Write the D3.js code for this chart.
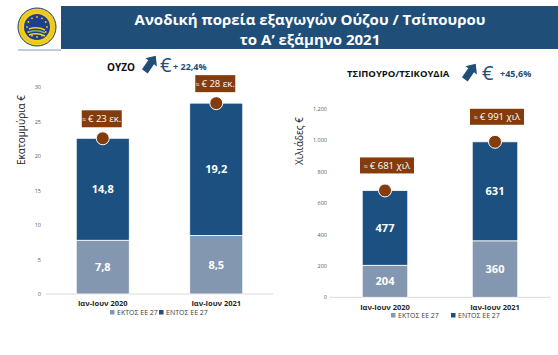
<!DOCTYPE html>
<html><head><meta charset="utf-8">
<script src="https://cdn.jsdelivr.net/npm/d3@7"></script>
<style>
html,body{margin:0;padding:0;background:#fff;}
svg{display:block;font-family:"Open Sans",sans-serif;}
</style></head>
<body>
<svg id="c" width="558" height="355"></svg>
<script>
// ---- data ----
const categories = ["Ιαν-Ιουν 2020", "Ιαν-Ιουν 2021"];
const seriesNames = ["ΕΚΤΟΣ ΕΕ 27", "ΕΝΤΟΣ ΕΕ 27"];
const ouzoOutside = [7.8, 8.5];
const ouzoInside = [14.8, 19.2];
const ouzoTotalLabels = ["€ 23 εκ.", "€ 28 εκ."];
const ouzoTicks = [0, 5, 10, 15, 20, 25, 30];
const tsipOutside = [204, 360];
const tsipInside = [477, 631];
const tsipTotalLabels = ["€ 681 χιλ", "€ 991 χιλ"];
const tsipTicks = [0, 200, 400, 600, 800, 1000, 1200];
const titleLines = ["Ανοδική πορεία εξαγωγών Ούζου / Τσίπουρου", "το Α’ εξάμηνο 2021"];

const DARK = "#1b5080", LIGHT = "#8497b0", BROWN = "#843c0c", BANNER = "#1f4e79";
const svg = d3.select("#c");

// ---- header banner ----
svg.append("rect").attr("x", 61).attr("y", 6).attr("width", 497).attr("height", 43).attr("fill", BANNER);
svg.append("line").attr("x1", 18).attr("x2", 61).attr("y1", 50).attr("y2", 50).attr("stroke", "#7f9bb5").attr("stroke-width", 1);
svg.selectAll("text.title").data(titleLines).join("text")
  .attr("x", 310).attr("y", (d, i) => 25 + i * 20)
  .attr("text-anchor", "middle").attr("fill", "#fff")
  .attr("font-size", 15).attr("font-weight", 700).text(d => d);

// logo (PGI style seal)
const logo = svg.append("g").attr("transform", "translate(37,27)");
logo.append("circle").attr("r", 19).attr("fill", "#f2cf1d").attr("stroke", "#1f3c7a").attr("stroke-width", 1);
logo.append("circle").attr("r", 13).attr("fill", "#1f3f8c");
logo.append("circle").attr("r", 16).attr("fill", "none").attr("stroke", "#b8961a").attr("stroke-width", 0.5).attr("stroke-dasharray", "1,1");
d3.range(12).forEach(i => {
  const a = i / 12 * 2 * Math.PI;
  logo.append("circle").attr("cx", 10 * Math.cos(a)).attr("cy", 10 * Math.sin(a)).attr("r", 0.9).attr("fill", "#f2cf1d");
});
[0, 1, 2].forEach(i => {
  logo.append("path").attr("d", `M-8,${2 + i * 3} Q0,${-1 + i * 3} 8,${3 + i * 3}`)
    .attr("fill", "none").attr("stroke", i % 2 ? "#8ab34a" : "#f2cf1d").attr("stroke-width", 1.6);
});

// ---- headings with arrows ----
function arrow(x, y, s) {
  const p = "M0,-10 L7,-2 L3.5,-2 L3.5,9 L-3.5,9 L-3.5,-2 L-7,-2 Z";
  svg.append("path").attr("d", p).attr("fill", BANNER)
    .attr("transform", `translate(${x},${y}) rotate(35) scale(${s})`);
}
svg.append("text").attr("x", 107).attr("y", 71).attr("font-size", 10).attr("font-weight", 700).attr("fill", "#111").text("ΟΥΖΟ");
arrow(150, 64, 1);
svg.append("text").attr("x", 160).attr("y", 72).attr("font-size", 20).attr("fill", BANNER).text("€");
svg.append("text").attr("x", 173).attr("y", 70).attr("font-size", 9).attr("font-weight", 700).attr("fill", BANNER).text("+ 22,4%");

svg.append("text").attr("x", 347).attr("y", 77).attr("font-size", 9.5).attr("font-weight", 700).attr("fill", "#111").text("ΤΣΙΠΟΥΡΟ/ΤΣΙΚΟΥΔΙΑ");
arrow(470, 72, 1);
svg.append("text").attr("x", 482).attr("y", 80).attr("font-size", 20).attr("fill", BANNER).text("€");
svg.append("text").attr("x", 500).attr("y", 77).attr("font-size", 9).attr("font-weight", 700).attr("fill", BANNER).text("+45,6%");

// ---- stacked chart builder ----
function chart(cfg) {
  const g = svg.append("g");
  const x = d3.scaleBand().domain(categories).range(cfg.xr).padding(0);
  const y = d3.scaleLinear().domain([0, cfg.ticks[cfg.ticks.length - 1]]).range(cfg.yr);
  const bw = x.bandwidth() * cfg.barFrac;
  const cx = c => x(c) + x.bandwidth() / 2;

  // y tick labels
  g.selectAll("text.tick").data(cfg.ticks).join("text")
    .attr("x", cfg.tickX).attr("y", d => y(d) + 2)
    .attr("text-anchor", "end").attr("font-size", 5.5).attr("fill", "#595959")
    .text(cfg.fmt);
  // baseline
  g.append("line").attr("x1", cfg.xr[0]).attr("x2", cfg.xr[1]).attr("y1", y(0)).attr("y2", y(0))
    .attr("stroke", "#d9d9d9").attr("stroke-width", 1);

  const rows = categories.map((c, i) => ({ c, a: cfg.outside[i], b: cfg.inside[i], lab: cfg.labels[i] }));
  // outside EU (bottom)
  g.selectAll("rect.lo").data(rows).join("rect")
    .attr("x", d => cx(d.c) - bw / 2).attr("width", bw)
    .attr("y", d => y(d.a)).attr("height", d => y(0) - y(d.a))
    .attr("fill", LIGHT).attr("stroke", "#fff").attr("stroke-width", 0.8);
  // inside EU (top)
  g.selectAll("rect.hi").data(rows).join("rect")
    .attr("x", d => cx(d.c) - bw / 2).attr("width", bw)
    .attr("y", d => y(d.a + d.b)).attr("height", d => y(d.a) - y(d.a + d.b))
    .attr("fill", DARK).attr("stroke", "#fff").attr("stroke-width", 0.8);
  // values
  g.selectAll("text.vlo").data(rows).join("text")
    .attr("x", d => cx(d.c)).attr("y", d => (y(0) + y(d.a)) / 2 + 4)
    .attr("text-anchor", "middle").attr("fill", "#fff").attr("font-size", 11).attr("font-weight", 700)
    .text(d => cfg.vfmt(d.a));
  g.selectAll("text.vhi").data(rows).join("text")
    .attr("x", d => cx(d.c)).attr("y", d => (y(d.a) + y(d.a + d.b)) / 2 + 4)
    .attr("text-anchor", "middle").attr("fill", "#fff").attr("font-size", 11).attr("font-weight", 700)
    .text(d => cfg.vfmt(d.b));
  // total markers
  g.selectAll("circle.tot").data(rows).join("circle")
    .attr("cx", d => cx(d.c)).attr("cy", d => y(d.a + d.b)).attr("r", 6.5)
    .attr("fill", BROWN).attr("stroke", "#fff").attr("stroke-width", 1);
  // total label boxes
  rows.forEach(d => {
    const bx = cx(d.c) + cfg.boxDx, by = y(d.a + d.b) - cfg.boxGap - cfg.boxH;
    g.append("rect").attr("x", bx - cfg.boxW / 2).attr("y", by).attr("width", cfg.boxW).attr("height", cfg.boxH)
      .attr("fill", BROWN);
    const t = g.append("text").attr("x", bx).attr("y", by + cfg.boxH / 2 + 3.5)
      .attr("text-anchor", "middle").attr("fill", "#fff").attr("font-size", 9.5);
    t.append("tspan").attr("font-size", 7).text("≈ ");
    t.append("tspan").text(d.lab);
  });
  // x labels
  g.selectAll("text.xl").data(categories).join("text")
    .attr("x", d => cx(d)).attr("y", cfg.xlabY)
    .attr("text-anchor", "middle").attr("font-size", 7.5).attr("font-weight", 700).attr("fill", "#262626")
    .text(d => d);
  // y title
  g.append("text").attr("transform", `translate(${cfg.ytX},${cfg.ytY}) rotate(-90)`)
    .attr("text-anchor", "middle").attr("font-size", 10).attr("fill", "#222").text(cfg.ytitle);
  // legend
  seriesNames.forEach((s, i) => {
    const lx = cfg.legX[i];
    g.append("rect").attr("x", lx).attr("y", cfg.legY - 5).attr("width", 4.5).attr("height", 4.5)
      .attr("fill", i === 0 ? LIGHT : DARK);
    g.append("text").attr("x", lx + 7).attr("y", cfg.legY).attr("font-size", 7).attr("fill", "#404040").text(s);
  });
}

const dot = d3.formatLocale({ decimal: ",", thousands: ".", grouping: [3], currency: ["€", ""] });
chart({
  xr: [46, 273], yr: [294, 87.3], ticks: ouzoTicks, outside: ouzoOutside, inside: ouzoInside,
  labels: ouzoTotalLabels, barFrac: 0.467, tickX: 41, fmt: d => d,
  vfmt: d => dot.format(".1f")(d),
  boxW: 40, boxH: 17, boxGap: 11, boxDx: -1,
  xlabY: 306, ytitle: "Εκατομμύρια €", ytX: 25, ytY: 130,
  legX: [110, 159], legY: 315
});
chart({
  xr: [330, 550], yr: [297.3, 109], ticks: tsipTicks, outside: tsipOutside, inside: tsipInside,
  labels: tsipTotalLabels, barFrac: 0.414, tickX: 327, fmt: d => dot.format(",")(d),
  vfmt: d => d,
  boxW: 54, boxH: 16, boxGap: 17, boxDx: 2,
  xlabY: 310, ytitle: "Χιλιάδες €", ytX: 303, ytY: 141,
  legX: [391, 451], legY: 318
});
</script>
</body></html>
